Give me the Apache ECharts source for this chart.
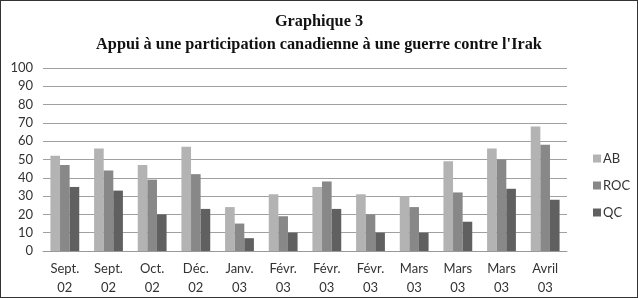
<!DOCTYPE html>
<html><head><meta charset="utf-8">
<script src="https://cdn.jsdelivr.net/npm/echarts@6/dist/echarts.min.js"></script>
<style>html,body{margin:0;padding:0;background:#fff}#c{width:636px;height:296px;border:1px solid #333}</style>
</head><body><div id="c"></div>
<script>
var categories = ['Sept.\n02','Sept.\n02','Oct.\n02','Déc.\n02','Janv.\n03','Févr.\n03','Févr.\n03','Févr.\n03','Mars\n03','Mars\n03','Mars\n03','Avril\n03'];
var AB  = [52, 56, 47, 57, 24, 31, 35, 31, 30, 49, 56, 68];
var ROC = [47, 44, 39, 42, 15, 19, 38, 20, 24, 32, 50, 58];
var QC  = [35, 33, 20, 23, 7, 10, 23, 10, 10, 16, 34, 28];
var yTicks = [0,10,20,30,40,50,60,70,80,90,100];
var titleLines = ['Graphique 3', "Appui à une participation canadienne à une guerre contre l'Irak"];

var chart = echarts.init(document.getElementById('c'));
var font = 'Lato, "Open Sans", sans-serif';
chart.setOption({
  animation:false,
  title:{text:titleLines.join('\n'), left:'center', top:4,
    textStyle:{fontFamily:'"Liberation Serif", serif', fontWeight:'bold', fontSize:16.3, lineHeight:23, color:'#111'}},
  grid:{left:42, right:70, top:67, bottom:41, containLabel:false},
  legend:{orient:'vertical', left:587, top:146, itemWidth:8, itemHeight:8, itemGap:14, icon:'rect',
    textStyle:{fontFamily:font, fontSize:13, color:'#333', padding:[0,0,0,-3]},
    data:['AB','ROC','QC']},
  xAxis:{type:'category', data:categories,
    axisLine:{lineStyle:{color:'#999'}}, axisTick:{show:false},
    axisLabel:{fontFamily:font, fontSize:13, color:'#333', lineHeight:19, margin:8, interval:0}},
  yAxis:{type:'value', min:yTicks[0], max:yTicks[yTicks.length-1], interval:10,
    axisLine:{show:false}, axisTick:{show:false},
    splitLine:{lineStyle:{color:'#a0a0a0'}},
    axisLabel:{fontFamily:font, fontSize:13, color:'#333', margin:10}},
  series:[
    {name:'AB', type:'bar', data:AB, itemStyle:{color:'#b3b3b3'}, barGap:'0%', barCategoryGap:'34%'},
    {name:'ROC', type:'bar', data:ROC, itemStyle:{color:'#888888'}},
    {name:'QC', type:'bar', data:QC, itemStyle:{color:'#606060'}}
  ]
});
</script></body></html>
